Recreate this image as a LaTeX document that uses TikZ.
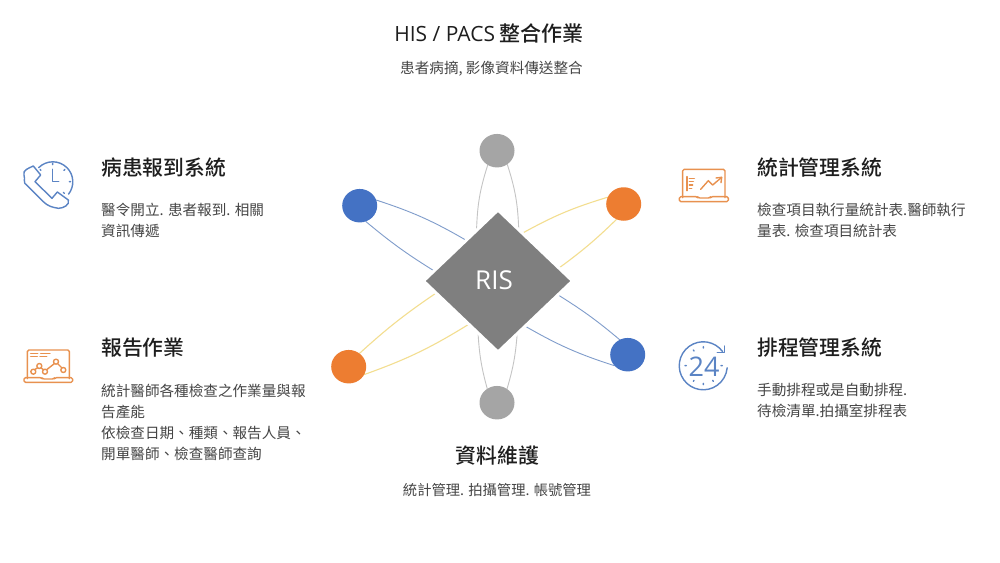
\documentclass[tikz,border=0pt]{standalone}
\usepackage{fontspec}
\usetikzlibrary{shapes.geometric,arrows.meta}
\setmainfont{Noto Sans CJK TC}[BoldFont={Noto Sans CJK TC Medium}]
\newfontfamily\latinfont{Open Sans}
\definecolor{cblue}{HTML}{4472C4}
\definecolor{corange}{HTML}{ED7D31}
\definecolor{cgray}{HTML}{A5A5A5}
\definecolor{cdiam}{HTML}{7F7F7F}
\definecolor{lblue}{HTML}{7F9CCB}
\definecolor{lyellow}{HTML}{F3DE90}
\definecolor{lgray}{HTML}{C4C4C4}
\definecolor{ttl}{HTML}{1E1E1E}
\definecolor{bdy}{HTML}{454545}
\definecolor{iblue}{HTML}{5B84C4}
\definecolor{iorange}{HTML}{E8914F}
\pgfdeclarelayer{bg}
\pgfsetlayers{bg,main}
\tikzset{
  ball/.style={ellipse,minimum width=35pt,minimum height=33.5pt,inner sep=0pt,outer sep=0pt},
  heading/.style={inner sep=0pt,text=ttl,font=\bfseries\fontsize{20.8}{24}\selectfont},
  bodytext/.style={inner sep=0pt,text=bdy,align=left,font=\fontsize{14.6}{21.2}\selectfont},
  bluelink/.style={draw=lblue,line width=.9pt},
  yellowlink/.style={draw=lyellow,line width=1.1pt},
  graylink/.style={draw=lgray,line width=.9pt},
  iconblue/.style={draw=iblue,line width=1.4pt,line join=round,line cap=round},
  iconorange/.style={draw=iorange,line width=1.4pt,line join=round,line cap=round},
}
\begin{document}
\begin{tikzpicture}[x=1pt,y=-1pt]
\useasboundingbox (0,0) rectangle (1000,562);
\begin{pgfonlayer}{bg}
\fill[white] (0,0) rectangle (1000,562);
\end{pgfonlayer}

% centre
\node[diamond,fill=cdiam,draw=white,line width=3pt,inner sep=0pt,outer sep=0pt,minimum width=149pt,minimum height=142pt] (ris) at (498,281) {};
\node[text=white,inner sep=0pt,font=\latinfont\fontsize{26}{30}\selectfont] (ristext) at (494,280) {RIS};
\node[ball,fill=cgray] (gt) at (497,150.7) {};
\node[ball,fill=cgray] (gb) at (497,402.7) {};
\node[ball,fill=cblue] (bl) at (359.7,205.7) {};
\node[ball,fill=cblue] (br) at (627.7,354.7) {};
\node[ball,fill=corange] (ot) at (623.7,204) {};
\node[ball,fill=corange] (ol) at (348.7,366.7) {};

\begin{pgfonlayer}{bg}
\draw[graylink] (gt.237) to[bend right=8] (ris.113);
\draw[graylink] (gt.307) to[bend left=8] (ris.68);
\draw[graylink] (gb.125) to[bend left=6] (ris.249);
\draw[graylink] (gb.54) to[bend right=6] (ris.290);
\draw[bluelink] (bl.19) to[bend left=6] (ris.128);
\draw[bluelink] (bl.-69) to[bend right=4] (ris.171);
\draw[bluelink] (br.118) to[bend right=4] (ris.-13);
\draw[bluelink] (br.220) to[bend left=6] (ris.-59);
\draw[yellowlink] (ot.157) to[bend right=6] (ris.63);
\draw[yellowlink] (ot.245) to[bend left=4] (ris.12);
\draw[yellowlink] (ol.51) to[bend left=4] (ris.191);
\draw[yellowlink] (ol.-27) to[bend right=6] (ris.236);
\end{pgfonlayer}

% texts
\node[inner sep=0pt,text=ttl,font=\bfseries\fontsize{21}{24}\selectfont] (toptitle) at (489,33) {{\latinfont\mdseries\fontsize{21}{24}\selectfont HIS / PACS} 整合作業};
\node[inner sep=0pt,text=bdy,font=\fontsize{14.6}{20}\selectfont] (topsub) at (491.5,69) {患者病摘, 影像資料傳送整合};
\node[heading] (bottitle) at (497.5,455.5) {資料維護};
\node[inner sep=0pt,text=bdy,font=\fontsize{14.3}{20}\selectfont] (botsub) at (497,490) {統計管理. 拍攝管理. 帳號管理};

\node[heading,anchor=west] (t1) at (101,167.5) {病患報到系統};
\node[bodytext,anchor=north west] (b1) at (101,202.5) {醫令開立. 患者報到. 相關\\資訊傳遞};
\node[heading,anchor=west] (t2) at (101,347.5) {報告作業};
\node[bodytext,anchor=north west] (b2) at (101,383.5) {統計醫師各種檢查之作業量與報\\告產能\\依檢查日期、種類、報告人員、\\開單醫師、檢查醫師查詢};
\node[heading,anchor=west] (t3) at (757,167.5) {統計管理系統};
\node[bodytext,anchor=north west] (b3) at (757,203) {檢查項目執行量統計表.醫師執行\\量表. 檢查項目統計表};
\node[heading,anchor=west] (t4) at (757,347.5) {排程管理系統};
\node[bodytext,anchor=north west] (b4) at (757,383) {手動排程或是自動排程.\\待檢清單.拍攝室排程表};

% phone-clock icon
\begin{scope}[shift={(0pt,-130pt)},x=.3333pt,y=-.3333pt,iconblue]
\draw (116,113) arc[start angle=135,end angle=-38,radius=20pt];
\draw (100,108) to[out=205,in=110] (72,135) to[out=290,in=160] (80,165) -- (130,215) to[out=-45,in=170] (175,235) to[out=0,in=-70] (205,210) -- (172,186) -- (156,205) -- (105,155) -- (122,135) -- cycle;
\draw (158,118) -- (158,155) -- (176,155);
\draw (158,100) -- (158,104) (208,155) -- (212,155) (195,118) -- (192,121) (120,118) -- (123,121) (193,190) -- (190,187);
\end{scope}

% report laptop icon
\begin{scope}[shift={(0pt,-320pt)},x=.3333pt,y=-.3333pt,iconorange]
\draw[rounded corners=1.5pt] (82,176) -- (82,90) -- (208,90) -- (208,176);
\draw[rounded corners=1.5pt] (72,173) -- (125,173) -- (128,177) -- (162,177) -- (165,173) -- (218,173) -- (218,187) -- (72,187) -- cycle;
\draw (92,100) -- (113,100) (122,100) -- (150,100) (92,110) -- (112,110) (120,110) -- (140,110);
\draw (100,155) circle[radius=2.5pt] (118,138) circle[radius=2.5pt] (135,155) circle[radius=2.5pt] (168,125) circle[radius=2.5pt] (190,150) circle[radius=2.5pt];
\draw (104,149) -- (113,143) (123,143) -- (131,150) (140,149) -- (163,131) (173,131) -- (186,144);
\end{scope}

% statistics laptop icon
\begin{scope}[shift={(660pt,-150pt)},x=.3333pt,y=-.3333pt,iconorange]
\draw[rounded corners=1.5pt] (68,143) -- (68,58) -- (195,58) -- (195,143);
\draw[rounded corners=1.5pt] (58,140) -- (112,140) -- (115,144) -- (150,144) -- (153,140) -- (205,140) -- (205,155) -- (58,155) -- cycle;
\draw (81,80) -- (81,122);
\draw (88,85) -- (103,85) (88,95) -- (100,95) (88,105) -- (98,105) (88,115) -- (95,115);
\draw (122,118) -- (145,92) -- (158,105) -- (185,82);
\draw (168,84) -- (185,82) -- (183,98);
\end{scope}

% 24-hour icon
\begin{scope}[shift={(660pt,-330pt)},x=.3333pt,y=-.3333pt,iconblue]
\draw (188,65) arc[start angle=36,end angle=355,radius=24pt];
\draw (172,68) -- (193,68) -- (193,48);
\draw (130,50) -- (130,54) (130,160) -- (130,164) (75,107) -- (79,107) (100,60) -- (102,63) (100,154) -- (102,151) (160,154) -- (158,151) (187,107) -- (183,107);
\end{scope}
\node[inner sep=0pt,text=iblue,font=\latinfont\fontsize{27}{30}\selectfont] (twentyfour) at (704,367) {24};
\end{tikzpicture}
\end{document}
